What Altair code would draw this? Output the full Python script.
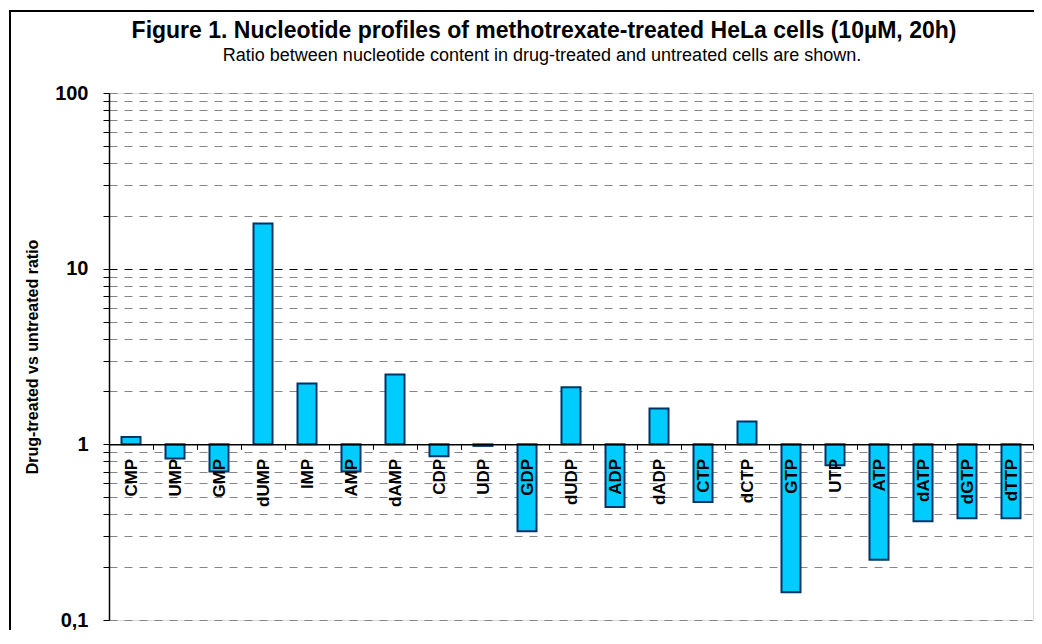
import altair as alt
import pandas as pd

names = ["CMP", "UMP", "GMP", "dUMP", "IMP", "AMP", "dAMP", "CDP", "UDP", "GDP",
         "dUDP", "ADP", "dADP", "CTP", "dCTP", "GTP", "UTP", "ATP", "dATP", "dGTP", "dTTP"]
ratios = [1.10, 0.83, 0.70, 18.1, 2.22, 0.70, 2.5, 0.855, 0.98, 0.32,
          2.11, 0.44, 1.60, 0.47, 1.35, 0.144, 0.76, 0.22, 0.365, 0.38, 0.38]
y_ticks = [0.1, 0.2, 0.3, 0.4, 0.5, 0.6, 0.7, 0.8, 0.9,
           1, 2, 3, 4, 5, 6, 7, 8, 9,
           10, 20, 30, 40, 50, 60, 70, 80, 90, 100]
title_text = "Figure 1. Nucleotide profiles of methotrexate-treated HeLa cells (10µM, 20h)"
subtitle_text = "Ratio between nucleotide content in drug-treated and untreated cells are shown."
y_title = "Drug-treated  vs  untreated ratio"

df = pd.DataFrame({"name": names, "ratio": ratios})

W, H = 924, 527
FONT = "Liberation Sans"
NARROW = "'Liberation Sans Narrow', 'Arial Narrow', 'Liberation Sans'"

bars = alt.Chart(df).mark_bar(
    size=19, color="#00CCFF", stroke="#003366", strokeWidth=2
).encode(
    x=alt.X("name:N", sort=names,
            scale=alt.Scale(paddingInner=0, paddingOuter=0),
            axis=alt.Axis(title=None, orient="bottom", offset=-H / 3,
                          domainColor="black", domainWidth=1.5,
                          tickColor="black", tickSize=5, tickBand="extent",
                          labelAngle=270, labelFont=NARROW, labelFontWeight="bold",
                          labelFontSize=17, labelColor="black", labelPadding=9,
                          grid=False, zindex=1)),
    y=alt.Y("ratio:Q",
            scale=alt.Scale(type="log", domain=[0.1, 100]),
            axis=alt.Axis(title=y_title,
                          titleFont=NARROW, titleFontSize=16, titleFontWeight="bold",
                          titleColor="black", titlePadding=14,
                          values=y_ticks,
                          labelExpr="datum.value == 0.1 ? '0,1' : (datum.value == 1 || datum.value == 10 || datum.value == 100) ? format(datum.value, 'd') : ''",
                          labelFont=FONT, labelFontSize=20, labelFontWeight="bold",
                          labelColor="black", labelPadding=15,
                          domainColor="black", domainWidth=1.5,
                          tickColor="black", tickSize=6,
                          grid=True, gridDash=[8, 7], gridWidth=1,
                          gridColor=alt.condition("datum.value == 10",
                                                  alt.value("black"),
                                                  alt.value("#858585")),
                          zindex=0)),
    y2=alt.datum(1),
)

one = pd.DataFrame({"f": [0]})

frame = alt.Chart(one).mark_rect(
    filled=False, stroke="black", strokeWidth=2
).encode(
    x=alt.value(-99), x2=alt.value(W + 4), y=alt.value(-82), y2=alt.value(H + 60)
)

title = alt.Chart(one).mark_text(
    text=title_text, font=NARROW, fontSize=23, fontWeight="bold", color="black",
    align="center", baseline="alphabetic"
).encode(x=alt.value(435), y=alt.value(-55))

subtitle = alt.Chart(one).mark_text(
    text=subtitle_text, font=NARROW, fontSize=18, color="black",
    align="center", baseline="alphabetic"
).encode(x=alt.value(433), y=alt.value(-32))

chart = alt.layer(frame, bars, title, subtitle).properties(
    width=W, height=H,
    autosize=alt.AutoSizeParams(type="none"),
    padding={"left": 101, "top": 85, "right": 1, "bottom": 10},
).configure_view(
    fill="#C0C0C0", stroke="transparent"
).configure(background="white")

chart.save("out.html", embed_options={"renderer": "svg", "actions": False})
